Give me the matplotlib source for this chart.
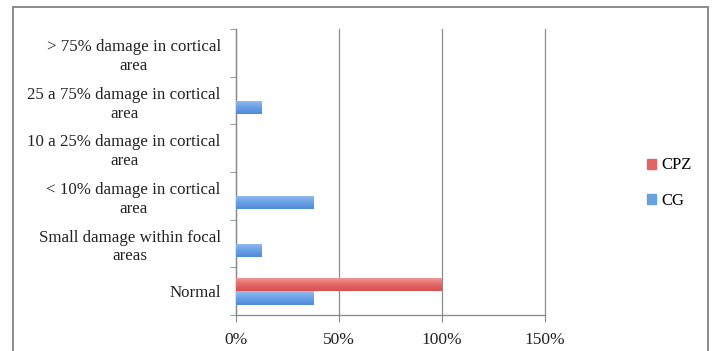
import matplotlib
matplotlib.use("Agg")
import matplotlib.pyplot as plt
from matplotlib.patches import Rectangle, Patch
from matplotlib.colors import LinearSegmentedColormap
import numpy as np

categories = [
    "Normal",
    "Small damage within focal\nareas",
    "< 10% damage in cortical\narea",
    "10 a 25% damage in cortical\narea",
    "25 a 75% damage in cortical\narea",
    "> 75% damage in cortical\narea",
]
cg_values = [37.5, 12.5, 37.5, 0, 12.5, 0]
cpz_values = [100, 0, 0, 0, 0, 0]
x_ticks = [0, 50, 100, 150]
x_tick_labels = ["0%", "50%", "100%", "150%"]

plt.rcParams["font.family"] = ["Liberation Serif", "DejaVu Serif"]

fig = plt.figure(figsize=(7.15, 3.51), dpi=100)
ax = fig.add_axes([236 / 715, 1 - 315 / 351, (545 - 236) / 715, (315 - 29) / 351])

blue = "#6a9fe0"
red = "#e06563"
blue_grad = LinearSegmentedColormap.from_list("bg", ["#4f8ad8", "#6aa0e4", "#95bff2"])
red_grad = LinearSegmentedColormap.from_list("rg", ["#d94f4f", "#e46a6a", "#f29e9c"])

h = 0.28
y = np.arange(len(categories))
cg_bars = ax.barh(y - h / 2, cg_values, height=h, color=blue, label="CG", zorder=3)
cpz_bars = ax.barh(y + h / 2, cpz_values, height=h, color=red, label="CPZ", zorder=3)

# vertical shading inside each bar (lighter at the top)
grad = np.linspace(0, 1, 64).reshape(-1, 1)
for bars, cmap in [(cg_bars, blue_grad), (cpz_bars, red_grad)]:
    for bar in bars:
        w = bar.get_width()
        if w <= 0:
            continue
        y0 = bar.get_y()
        im = ax.imshow(grad, cmap=cmap, aspect="auto", origin="lower",
                       extent=(0, w, y0, y0 + bar.get_height()), zorder=4,
                       interpolation="bilinear")
        im.set_clip_path(bar)

ax.set_xlim(0, 150)
ax.set_ylim(-0.5, len(categories) - 0.5)
ax.set_xticks(x_ticks)
ax.set_xticklabels(x_tick_labels, fontsize=12.5, color="#222222")
ax.set_yticks(y)
ax.set_yticklabels(categories, fontsize=12.2, color="#222222",
                   multialignment="center", linespacing=1.25)
ax.set_yticks(np.arange(len(categories) + 1) - 0.5, minor=True)
ax.tick_params(axis="y", which="major", length=0, pad=11)
ax.tick_params(axis="y", which="minor", length=4, color="#888888", direction="out")
ax.tick_params(axis="x", length=5, color="#888888", direction="out", pad=7)

ax.grid(axis="x", color="#8c8c8c", linewidth=0.9, zorder=0)
for gl in ax.get_xgridlines():
    gl.set_clip_on(False)
for side in ["top", "right"]:
    ax.spines[side].set_visible(False)
for side in ["left", "bottom"]:
    ax.spines[side].set_color("#888888")
    ax.spines[side].set_linewidth(0.9)

handles = [Patch(color=red, label="CPZ"), Patch(color=blue, label="CG")]
fig.legend(handles=handles, loc="center left", bbox_to_anchor=(632 / 715, 1 - 183 / 351),
           frameon=False, handlelength=0.55, handleheight=0.55, handletextpad=0.3,
           labelspacing=1.15, fontsize=12)

frame = Rectangle((13 / 715, -0.1), (708 - 13) / 715, 1.1 - 7 / 351,
                  transform=fig.transFigure, fill=False, edgecolor="#8a8a8a",
                  linewidth=1.4, clip_on=False)
fig.patches.append(frame)

fig.savefig("out.png", dpi=100)
